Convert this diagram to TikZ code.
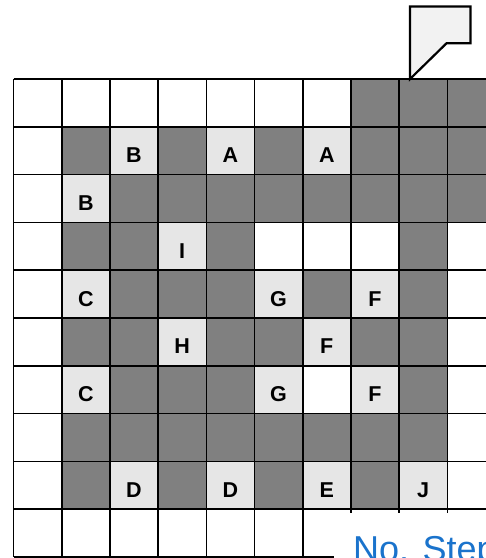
\documentclass[tikz,border=0pt]{standalone}
\usepackage{fontspec}
\setmainfont{Liberation Sans}
\definecolor{cdark}{HTML}{808080}
\definecolor{clight}{HTML}{E6E6E6}
\definecolor{cflag}{HTML}{F2F2F2}
\definecolor{cblue}{HTML}{1A73CC}
\begin{document}
\begin{tikzpicture}[x=1pt,y=-1pt,
  gridline/.style={line width=1.6pt,black},
  darkcell/.style={fill=cdark},
  lightcell/.style={fill=clight},
  lbl/.style={font=\bfseries\fontsize{21.5}{21.5}\selectfont, inner sep=0pt, yshift=-4.5pt},
  flagshape/.style={draw=black, line width=2.2pt, fill=cflag, line join=miter},
  titletext/.style={anchor=base west, text=cblue, font=\fontsize{36}{36}\selectfont, inner sep=0pt}]
\useasboundingbox (0,0) rectangle (486,558);
\fill[white] (0,0) rectangle (486,558);
\begin{scope}[shift={(13.5,79)}, x=48.2pt, y=-47.8pt]
  % dark cells
  \foreach \c/\r in {7/0,8/0,9/0,
                     1/1,3/1,5/1,7/1,8/1,9/1,
                     2/2,3/2,4/2,5/2,6/2,7/2,8/2,9/2,
                     1/3,2/3,4/3,8/3,
                     2/4,3/4,4/4,6/4,8/4,
                     1/5,2/5,4/5,5/5,7/5,8/5,
                     2/6,3/6,4/6,8/6,
                     1/7,2/7,3/7,4/7,5/7,6/7,7/7,8/7,
                     1/8,3/8,5/8,7/8}
    \fill[darkcell] (\c,\r) rectangle ++(1,1);
  % labelled light cells
  \foreach \c/\r/\t [count=\i] in {2/1/B,4/1/A,6/1/A,1/2/B,3/3/I,
                                   1/4/C,5/4/G,7/4/F,3/5/H,6/5/F,
                                   1/6/C,5/6/G,7/6/F,
                                   2/8/D,4/8/D,6/8/E,8/8/J}
  {
    \fill[lightcell] (\c,\r) rectangle ++(1,1);
    \node[lbl] (cell\i) at (\c+0.5,\r+0.5) {\t};
  }
  % grid lines
  \foreach \k in {0,...,10}
    \draw[gridline] (\k,0) -- (\k,10);
  \foreach \k in {0,...,10}
    \draw[gridline] (0,\k) -- (10.5,\k);
\end{scope}
% flag
\draw[flagshape] (410,79) -- (410,6.5) -- (470.5,6.5) -- (470.5,43.3) -- (446.5,43.3) -- cycle;
% title box
\fill[white] (334,513) rectangle (492,564);
\node[titletext] (title) at (353,561) {No. Step};
\end{tikzpicture}
\end{document}
